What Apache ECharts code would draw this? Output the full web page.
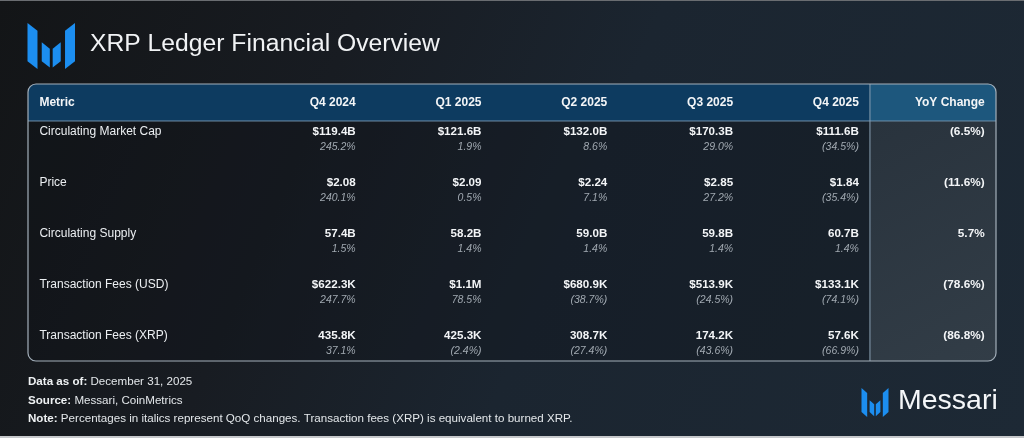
<!DOCTYPE html>
<html>
<head>
    <meta charset="utf-8">
    <title>XRP Ledger Financial Overview</title>
    <script src="https://cdn.jsdelivr.net/npm/echarts@6/dist/echarts.min.js"></script>
    <style>
        html, body { margin: 0; padding: 0; background: #15181c; }
        #chart { width: 1024px; height: 438px; }
    </style>
</head>
<body>
    <div id="chart"></div>
    <script>
        // table contents
        var quarters = ['Q4 2024', 'Q1 2025', 'Q2 2025', 'Q3 2025', 'Q4 2025'];
        var metrics = ['Circulating Market Cap', 'Price', 'Circulating Supply', 'Transaction Fees (USD)', 'Transaction Fees (XRP)'];
        var marketCap = ['$119.4B', '$121.6B', '$132.0B', '$170.3B', '$111.6B'];
        var marketCapQoQ = ['245.2%', '1.9%', '8.6%', '29.0%', '(34.5%)'];
        var price = ['$2.08', '$2.09', '$2.24', '$2.85', '$1.84'];
        var priceQoQ = ['240.1%', '0.5%', '7.1%', '27.2%', '(35.4%)'];
        var supply = ['57.4B', '58.2B', '59.0B', '59.8B', '60.7B'];
        var supplyQoQ = ['1.5%', '1.4%', '1.4%', '1.4%', '1.4%'];
        var feesUsd = ['$622.3K', '$1.1M', '$680.9K', '$513.9K', '$133.1K'];
        var feesUsdQoQ = ['247.7%', '78.5%', '(38.7%)', '(24.5%)', '(74.1%)'];
        var feesXrp = ['435.8K', '425.3K', '308.7K', '174.2K', '57.6K'];
        var feesXrpQoQ = ['37.1%', '(2.4%)', '(27.4%)', '(43.6%)', '(66.9%)'];
        var yoyChange = ['(6.5%)', '(11.6%)', '5.7%', '(78.6%)', '(86.8%)'];

        var rowValues = [marketCap, price, supply, feesUsd, feesXrp];
        var rowQoQ = [marketCapQoQ, priceQoQ, supplyQoQ, feesUsdQoQ, feesXrpQoQ];

        // axis space: x in column units (right edge of column n = n), y in row units
        var X_MIN = -1.605, X_MAX = 6.09, DIV_X = 5.088, METRIC_X = -1.514;
        var Y_MIN = -0.725, Y_MAX = 4.706, HEAD_Y = -0.36, VAL_OFF = 0.216, PCT_OFF = 0.52;

        var FONT = '"Liberation Sans", Arial, sans-serif';
        var WHITE = '#f3f5f7';
        var GREY = '#a1a9b1';
        var BLUE = '#1c8ef0';

        var cellData = [];
        for (var r = 0; r < metrics.length; r++) {
            for (var c = 0; c < quarters.length; c++) {
                cellData.push([c + 1, r]);
            }
        }
        var rowData = metrics.map(function (m, i) { return [METRIC_X, i]; });
        var headData = quarters.map(function (q, i) { return [i + 1, HEAD_Y]; });

        function txt(p, text, font, fill, align) {
            return {
                type: 'text', x: p[0], y: p[1],
                style: { text: text, font: font, fill: fill, align: align || 'right', verticalAlign: 'middle' }
            };
        }

        function renderFrame(params, api) {
            var tl = api.coord([X_MIN, Y_MIN]);
            var br = api.coord([X_MAX, Y_MAX]);
            var mid = api.coord([DIV_X, 0]);
            var w = br[0] - tl[0];
            return {
                type: 'group',
                children: [
                    { type: 'rect', shape: { x: tl[0], y: mid[1], width: w, height: br[1] - mid[1], r: [0, 0, 8, 8] },
                      style: { fill: 'rgba(12,16,22,0.3)' } },
                    { type: 'rect', shape: { x: tl[0], y: tl[1], width: mid[0] - tl[0], height: mid[1] - tl[1], r: [8, 0, 0, 0] },
                      style: { fill: '#0d3b60' } },
                    { type: 'rect', shape: { x: mid[0], y: tl[1], width: br[0] - mid[0], height: mid[1] - tl[1], r: [0, 8, 0, 0] },
                      style: { fill: '#1d577d' } },
                    { type: 'rect', shape: { x: mid[0], y: mid[1], width: br[0] - mid[0], height: br[1] - mid[1], r: [0, 0, 8, 0] },
                      style: { fill: new echarts.graphic.LinearGradient(0, 0, 1, 1, [
                          { offset: 0, color: '#29333d' }, { offset: 1, color: '#323d47' }]) } },
                    { type: 'line', shape: { x1: tl[0], y1: mid[1], x2: br[0], y2: mid[1] },
                      style: { stroke: '#6f8ea8', lineWidth: 1 } },
                    { type: 'line', shape: { x1: mid[0], y1: tl[1], x2: mid[0], y2: br[1] },
                      style: { stroke: '#8aa0b3', lineWidth: 1 } },
                    { type: 'rect', shape: { x: tl[0], y: tl[1], width: w, height: br[1] - tl[1], r: 8 },
                      style: { fill: 'none', stroke: '#a3afba', lineWidth: 1.2 } }
                ]
            };
        }

        function renderHead(params, api) {
            var p = api.coord([api.value(0), api.value(1)]);
            return txt(p, quarters[params.dataIndex], 'bold 12px ' + FONT, WHITE);
        }

        function renderCells(params, api) {
            var col = api.value(0), row = api.value(1);
            var pv = api.coord([col, row + VAL_OFF]);
            var pp = api.coord([col, row + PCT_OFF]);
            return {
                type: 'group',
                children: [
                    txt(pv, rowValues[row][col - 1], 'bold 11.6px ' + FONT, WHITE),
                    txt(pp, rowQoQ[row][col - 1], 'italic 10.5px ' + FONT, GREY)
                ]
            };
        }

        function renderRows(params, api) {
            var row = api.value(1);
            var pm = api.coord([METRIC_X, row + VAL_OFF]);
            var py = api.coord([6, row + VAL_OFF]);
            return {
                type: 'group',
                children: [
                    txt(pm, metrics[row], '12px ' + FONT, '#eceff2', 'left'),
                    txt(py, yoyChange[row], 'bold 11.8px ' + FONT, WHITE)
                ]
            };
        }

        function renderCorner(params, api) {
            var pm = api.coord([METRIC_X, HEAD_Y]);
            var py = api.coord([6, HEAD_Y]);
            return {
                type: 'group',
                children: [
                    txt(pm, 'Metric', 'bold 12px ' + FONT, WHITE, 'left'),
                    txt(py, 'YoY Change', 'bold 12px ' + FONT, WHITE)
                ]
            };
        }

        // Messari mark, unit square
        var markParts = [
            [[0, 0], [0.21, 0.17], [0.21, 1], [0, 0.83]],
            [[0.3, 0.42], [0.47, 0.56], [0.47, 0.97], [0.3, 0.83]],
            [[0.53, 0.56], [0.7, 0.42], [0.7, 0.83], [0.53, 0.97]],
            [[0.79, 0.17], [1, 0], [1, 0.83], [0.79, 1]]
        ];
        function mark(x, y, w, h) {
            return markParts.map(function (pts) {
                return {
                    type: 'polygon',
                    shape: { points: pts.map(function (p) { return [x + p[0] * w, y + p[1] * h]; }) },
                    style: { fill: BLUE }
                };
            });
        }

        function footLine(y, label, rest) {
            return {
                type: 'text', left: 28, top: y - 7,
                style: {
                    text: '{b|' + label + '} ' + rest,
                    font: '11.6px ' + FONT, fill: '#e3e7ea',
                    rich: { b: { font: 'bold 11.6px ' + FONT, fill: '#eef1f3' } }
                }
            };
        }

        var chart = echarts.init(document.getElementById('chart'));
        chart.setOption({
            animation: false,
            backgroundColor: new echarts.graphic.LinearGradient(0, 0, 1, 1, [
                { offset: 0, color: '#131517' },
                { offset: 0.3, color: '#181c22' },
                { offset: 0.55, color: '#1b2530' },
                { offset: 1, color: '#1d2935' }
            ]),
            grid: { left: 28, right: 28, top: 84, bottom: 77 },
            xAxis: { type: 'value', min: X_MIN, max: X_MAX, show: false },
            yAxis: { type: 'value', min: Y_MIN, max: Y_MAX, inverse: true, show: false },
            graphic: [
                { type: 'rect', left: 0, top: 0, shape: { width: 1024, height: 1 }, style: { fill: '#6a6d71' } },
                { type: 'rect', left: 0, top: 436, shape: { width: 1024, height: 2 }, style: { fill: '#c6c8cb' } },
                { type: 'group', children: mark(27.5, 23, 47.5, 46) },
                { type: 'text', left: 90, top: 32, style: { text: 'XRP Ledger Financial Overview', font: '24.7px ' + FONT, fill: '#f1f3f5' } },
                footLine(383, 'Data as of:', 'December 31, 2025'),
                footLine(401.5, 'Source:', 'Messari, CoinMetrics'),
                footLine(419.5, 'Note:', 'Percentages in italics represent QoQ changes. Transaction fees (XRP) is equivalent to burned XRP.'),
                { type: 'group', children: mark(861.5, 388, 27, 29) },
                { type: 'text', left: 898, top: 387, style: { text: 'Messari', font: '28.5px ' + FONT, fill: '#f5f7f9' } }
            ],
            series: [
                { type: 'custom', renderItem: renderFrame, data: [[0, 0]], silent: true },
                { type: 'custom', renderItem: renderCorner, data: [[0, 0]], silent: true },
                { type: 'custom', renderItem: renderHead, data: headData, silent: true },
                { type: 'custom', renderItem: renderRows, data: rowData, silent: true },
                { type: 'custom', renderItem: renderCells, data: cellData, silent: true }
            ]
        });
    </script>
</body>
</html>
